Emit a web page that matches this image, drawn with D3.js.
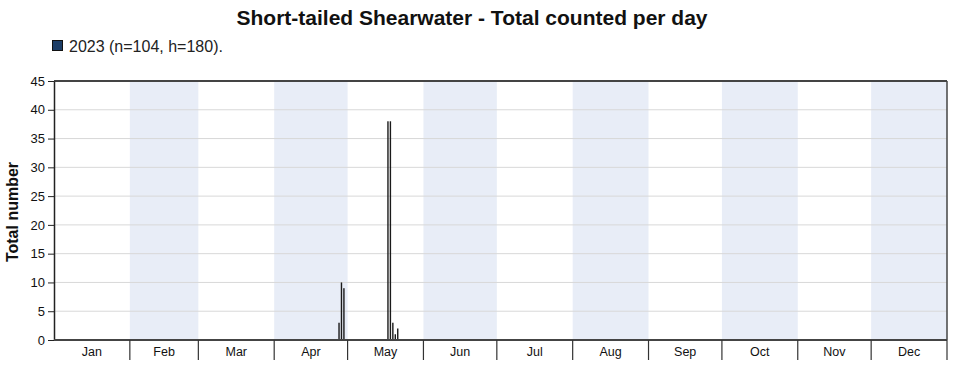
<!DOCTYPE html>
<html>
<head>
<meta charset="utf-8">
<script src="https://cdn.jsdelivr.net/npm/d3@7"></script>
<style>
	body { margin: 0; background: #fff; }
	svg text { font-family: "Liberation Sans", Arial, sans-serif; }
</style>
</head>
<body>
<div id="chart"></div>
<script>
// counts per day, 2023
var dates = ["2023-04-27", "2023-04-28", "2023-04-29", "2023-05-17", "2023-05-18", "2023-05-19", "2023-05-20", "2023-05-21"];
var counts = [3, 10, 9, 38, 38, 3, 1, 2];
var months = ["Jan", "Feb", "Mar", "Apr", "May", "Jun", "Jul", "Aug", "Sep", "Oct", "Nov", "Dec"];
var yTicks = [0, 5, 10, 15, 20, 25, 30, 35, 40, 45];
var title = "Short-tailed Shearwater - Total counted per day";
var legendLabel = "2023 (n=104, h=180).";

(function() {
	var width = 961,
		height = 371,
		margin = {top: 81, right: 14, bottom: 31, left: 54};

	var svg = d3.select("#chart")
		.append("svg")
		.attr("width", width)
		.attr("height", height);

	var parse = d3.timeParse("%Y-%m-%d");
	var start = new Date(2023, 0, 1),
		end = new Date(2024, 0, 1);

	var x = d3.scaleTime()
		.domain([start, end])
		.range([margin.left, width - margin.right]);

	var y = d3.scaleLinear()
		.domain([0, 45])
		.range([height - margin.bottom, margin.top]);

	var monthStarts = d3.timeMonths(start, end);

	// alternating month shading
	svg.selectAll(".shade")
		.data(monthStarts.filter(function(d, i) { return i % 2 === 1; }))
		.enter().append("rect")
		.attr("class", "shade")
		.attr("x", function(d) { return x(d); })
		.attr("y", y(45))
		.attr("width", function(d) { return x(d3.timeMonth.offset(d, 1)) - x(d); })
		.attr("height", y(0) - y(45))
		.attr("fill", "#e8edf7");

	// gridlines
	svg.selectAll(".grid")
		.data(yTicks.slice(1, -1))
		.enter().append("line")
		.attr("class", "grid")
		.attr("x1", x(start))
		.attr("x2", x(end))
		.attr("y1", function(d) { return y(d); })
		.attr("y2", function(d) { return y(d); })
		.attr("stroke", "#d8d8d8")
		.attr("stroke-width", 1);

	// bars
	var data = dates.map(function(d, i) { return {date: parse(d), value: counts[i]}; });
	svg.selectAll(".bar")
		.data(data)
		.enter().append("rect")
		.attr("class", "bar")
		.attr("x", function(d) {
			var mid = (x(d.date) + x(d3.timeDay.offset(d.date, 1))) / 2;
			return mid - 0.7;
		})
		.attr("y", function(d) { return y(d.value); })
		.attr("width", 1.4)
		.attr("height", function(d) { return y(0) - y(d.value); })
		.attr("fill", "#1a1a1a");

	// frame
	svg.append("line")
		.attr("x1", x(start)).attr("x2", x(end))
		.attr("y1", y(45)).attr("y2", y(45))
		.attr("stroke", "#444").attr("stroke-width", 2);
	svg.append("line")
		.attr("x1", x(end)).attr("x2", x(end))
		.attr("y1", y(45)).attr("y2", y(0))
		.attr("stroke", "#444").attr("stroke-width", 1.5);

	// y axis
	var yAxis = svg.append("g")
		.attr("transform", "translate(" + margin.left + ",0)")
		.call(d3.axisLeft(y).tickValues(yTicks).tickSize(6).tickSizeOuter(0));
	yAxis.select(".domain").attr("stroke", "#222").attr("stroke-width", 1.5);
	yAxis.selectAll(".tick line").attr("stroke", "#222");
	yAxis.selectAll("text")
		.attr("font-size", "13px")
		.attr("fill", "#111")
		.attr("font-family", "Liberation Sans, Arial, sans-serif");

	// x axis: month separators
	svg.append("line")
		.attr("x1", x(start)).attr("x2", x(end))
		.attr("y1", y(0)).attr("y2", y(0))
		.attr("stroke", "#444").attr("stroke-width", 2);

	svg.selectAll(".msep")
		.data(monthStarts.slice(1).concat([end]))
		.enter().append("line")
		.attr("class", "msep")
		.attr("x1", function(d) { return x(d); })
		.attr("x2", function(d) { return x(d); })
		.attr("y1", y(0))
		.attr("y2", y(0) + 20)
		.attr("stroke", "#333")
		.attr("stroke-width", 1.2);

	svg.selectAll(".mlabel")
		.data(monthStarts)
		.enter().append("text")
		.attr("class", "mlabel")
		.attr("x", function(d, i) { return (x(d) + x(d3.timeMonth.offset(d, 1))) / 2; })
		.attr("y", y(0) + 16)
		.attr("text-anchor", "middle")
		.attr("font-size", "12.5px")
		.attr("fill", "#111")
		.text(function(d, i) { return months[i]; });

	// y label
	svg.append("text")
		.attr("transform", "translate(18,212) rotate(-90)")
		.attr("text-anchor", "middle")
		.attr("font-size", "16px")
		.attr("font-weight", "bold")
		.attr("fill", "#111")
		.text("Total number");

	// title
	svg.append("text")
		.attr("x", 472)
		.attr("y", 25)
		.attr("text-anchor", "middle")
		.attr("font-size", "21px")
		.attr("font-weight", "bold")
		.attr("fill", "#111")
		.text(title);

	// legend
	svg.append("rect")
		.attr("x", 52.5).attr("y", 40.5)
		.attr("width", 10).attr("height", 10)
		.attr("fill", "#1c3d66")
		.attr("stroke", "#111");
	svg.append("text")
		.attr("x", 69)
		.attr("y", 52)
		.attr("font-size", "16px")
		.attr("fill", "#222")
		.text(legendLabel);
})();
</script>
</body>
</html>
